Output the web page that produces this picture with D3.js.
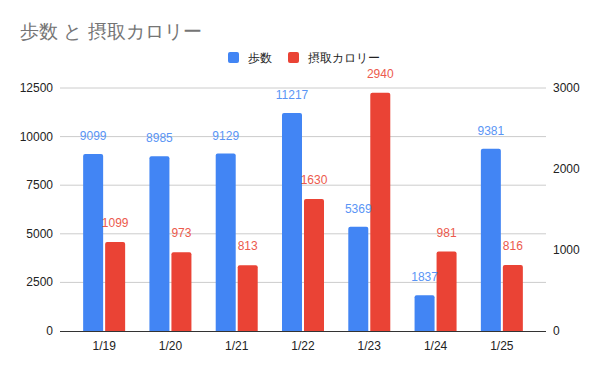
<html>
<head>
<style>
    body { margin: 0; background: #fff; }
    text { font-family: Arial, "Liberation Sans", sans-serif; }
</style>
</head>
<body>
<svg id="chart" width="600" height="371"></svg>
<script src="https://cdn.jsdelivr.net/npm/d3@7"></script>
<script>
    let dates = ["1/19", "1/20", "1/21", "1/22", "1/23", "1/24", "1/25"]
    let steps = [9099, 8985, 9129, 11217, 5369, 1837, 9381]
    let calories = [1099, 973, 813, 1630, 2940, 981, 816]
    let leftTicks = [0, 2500, 5000, 7500, 10000, 12500]
    let rightTicks = [0, 1000, 2000, 3000]

    let blue = "#4285f4"
    let red = "#ea4335"

    let svg = d3.select("#chart")
    let plotTop = 88, plotBottom = 331, plotLeft = 60, plotRight = 546

    let x = d3.scaleBand().domain(dates).range([71, 535])
    let yL = d3.scaleLinear().domain([0, 12500]).range([plotBottom, plotTop])
    let yR = d3.scaleLinear().domain([0, 3000]).range([plotBottom, plotTop])

    // title
    svg.append("text").attr("x", 20).attr("y", 38)
        .attr("font-size", 19).attr("fill", "#757575")
        .text("歩数 と 摂取カロリー")

    // legend
    let legend = [["歩数", blue, 228], ["摂取カロリー", red, 288]]
    legend.forEach(l => {
        svg.append("rect").attr("x", l[2]).attr("y", 52).attr("width", 11).attr("height", 11)
            .attr("rx", 2).attr("fill", l[1])
        svg.append("text").attr("x", l[2] + 20).attr("y", 62)
            .attr("font-size", 12).attr("fill", "#222").text(l[0])
    })

    // gridlines
    svg.append("g").selectAll("line").data(leftTicks.slice(1)).enter().append("line")
        .attr("x1", plotLeft).attr("x2", plotRight)
        .attr("y1", d => yL(d)).attr("y2", d => yL(d))
        .attr("stroke", "#cccccc").attr("stroke-width", 1)

    // left axis labels
    svg.append("g").selectAll("text").data(leftTicks).enter().append("text")
        .attr("x", 53).attr("y", d => yL(d) + 4).attr("text-anchor", "end")
        .attr("font-size", 12).attr("fill", "#222").text(d => d)

    // right axis labels
    svg.append("g").selectAll("text").data(rightTicks).enter().append("text")
        .attr("x", 553).attr("y", d => yR(d) + 4)
        .attr("font-size", 12).attr("fill", "#222").text(d => d)

    function topRoundedBar(x0, y0, w, h, r) {
        r = Math.min(r, h)
        return "M" + x0 + "," + (y0 + h) +
            "V" + (y0 + r) +
            "Q" + x0 + "," + y0 + " " + (x0 + r) + "," + y0 +
            "H" + (x0 + w - r) +
            "Q" + (x0 + w) + "," + y0 + " " + (x0 + w) + "," + (y0 + r) +
            "V" + (y0 + h) + "Z"
    }

    let bw = 20
    let groups = svg.append("g").selectAll("g").data(dates).enter().append("g")
        .attr("transform", d => "translate(" + (x(d) + x.bandwidth() / 2) + ",0)")

    groups.append("path")
        .attr("d", (d, i) => topRoundedBar(-21, yL(steps[i]), bw, plotBottom - yL(steps[i]), 2))
        .attr("fill", blue)
    groups.append("path")
        .attr("d", (d, i) => topRoundedBar(1, yR(calories[i]), bw, plotBottom - yR(calories[i]), 2))
        .attr("fill", red)

    groups.append("text")
        .attr("x", -11).attr("y", (d, i) => yL(steps[i]) - 14)
        .attr("text-anchor", "middle").attr("font-size", 12)
        .attr("font-family", "Roboto, Arial, sans-serif")
        .attr("fill", "#5a95f5").text((d, i) => steps[i])
    groups.append("text")
        .attr("x", 11).attr("y", (d, i) => yR(calories[i]) - 15)
        .attr("text-anchor", "middle").attr("font-size", 12)
        .attr("font-family", "Roboto, Arial, sans-serif")
        .attr("fill", "#ec5a4d").text((d, i) => calories[i])

    // baseline
    svg.append("line").attr("x1", plotLeft).attr("x2", plotRight)
        .attr("y1", plotBottom + 0.5).attr("y2", plotBottom + 0.5)
        .attr("stroke", "#333").attr("stroke-width", 1)

    // x labels
    svg.append("g").selectAll("text").data(dates).enter().append("text")
        .attr("x", d => x(d) + x.bandwidth() / 2).attr("y", 350)
        .attr("text-anchor", "middle").attr("font-size", 12).attr("fill", "#222")
        .text(d => d)
</script>
</body>
</html>
